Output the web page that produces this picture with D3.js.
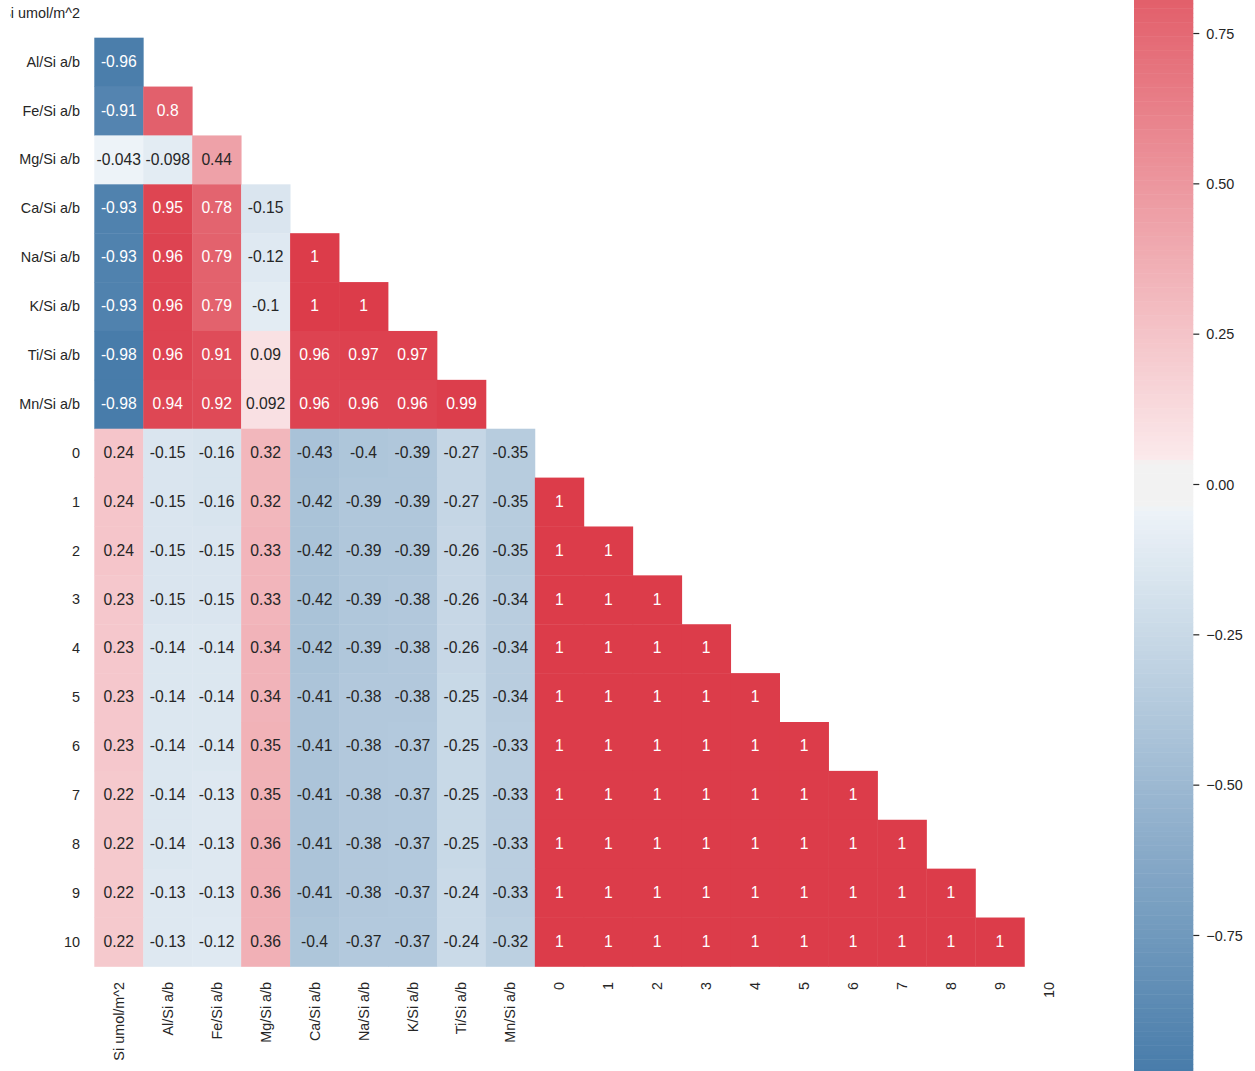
<!DOCTYPE html>
<html>
<head>
<meta charset="utf-8">
<script src="https://cdn.jsdelivr.net/npm/d3@7"></script>
<style>
  html, body { margin: 0; padding: 0; background: #ffffff; }
  svg { display: block; font-family: "Liberation Sans", Arial, sans-serif; }
</style>
</head>
<body>
<svg id="chart" width="1255" height="1071"></svg>
<script>
// Variable names (rows and columns of the correlation matrix)
const variables = [
  "Si umol/m^2", "Al/Si a/b", "Fe/Si a/b", "Mg/Si a/b", "Ca/Si a/b",
  "Na/Si a/b", "K/Si a/b", "Ti/Si a/b", "Mn/Si a/b",
  "0", "1", "2", "3", "4", "5", "6", "7", "8", "9", "10"
];

// Lower-triangle correlations, one list per row (row i holds columns 0..i-1)
const rowSi = [];
const rowAl = [-0.96];
const rowFe = [-0.91, 0.8];
const rowMg = [-0.043, -0.098, 0.44];
const rowCa = [-0.93, 0.95, 0.78, -0.15];
const rowNa = [-0.93, 0.96, 0.79, -0.12, 1];
const rowK  = [-0.93, 0.96, 0.79, -0.1, 1, 1];
const rowTi = [-0.98, 0.96, 0.91, 0.09, 0.96, 0.97, 0.97];
const rowMn = [-0.98, 0.94, 0.92, 0.092, 0.96, 0.96, 0.96, 0.99];
const row0  = [0.24, -0.15, -0.16, 0.32, -0.43, -0.4, -0.39, -0.27, -0.35];
const row1  = [0.24, -0.15, -0.16, 0.32, -0.42, -0.39, -0.39, -0.27, -0.35, 1];
const row2  = [0.24, -0.15, -0.15, 0.33, -0.42, -0.39, -0.39, -0.26, -0.35, 1, 1];
const row3  = [0.23, -0.15, -0.15, 0.33, -0.42, -0.39, -0.38, -0.26, -0.34, 1, 1, 1];
const row4  = [0.23, -0.14, -0.14, 0.34, -0.42, -0.39, -0.38, -0.26, -0.34, 1, 1, 1, 1];
const row5  = [0.23, -0.14, -0.14, 0.34, -0.41, -0.38, -0.38, -0.25, -0.34, 1, 1, 1, 1, 1];
const row6  = [0.23, -0.14, -0.14, 0.35, -0.41, -0.38, -0.37, -0.25, -0.33, 1, 1, 1, 1, 1, 1];
const row7  = [0.22, -0.14, -0.13, 0.35, -0.41, -0.38, -0.37, -0.25, -0.33, 1, 1, 1, 1, 1, 1, 1];
const row8  = [0.22, -0.14, -0.13, 0.36, -0.41, -0.38, -0.37, -0.25, -0.33, 1, 1, 1, 1, 1, 1, 1, 1];
const row9  = [0.22, -0.13, -0.13, 0.36, -0.41, -0.38, -0.37, -0.24, -0.33, 1, 1, 1, 1, 1, 1, 1, 1, 1];
const row10 = [0.22, -0.13, -0.12, 0.36, -0.4, -0.37, -0.37, -0.24, -0.32, 1, 1, 1, 1, 1, 1, 1, 1, 1, 1];

const lowerRows = [rowSi, rowAl, rowFe, rowMg, rowCa, rowNa, rowK, rowTi, rowMn,
  row0, row1, row2, row3, row4, row5, row6, row7, row8, row9, row10];

// Colour-bar tick values
const colorbarTicks = [-0.75, -0.5, -0.25, 0, 0.25, 0.5, 0.75];

// ---------------------------------------------------------------------------
const svg = d3.select("#chart");
const INK = "#262626";

// Flatten into cells
const cells = [];
lowerRows.forEach((row, i) => row.forEach((v, j) => cells.push({ r: variables[i], c: variables[j], v })));
const vmin = d3.min(cells, d => d.v);
const vmax = d3.max(cells, d => d.v);

// Diverging colormap (blue -> light -> grey band -> light -> red), centred on 0
const blue = d3.rgb(68, 121, 168), blueLight = d3.rgb(237, 243, 248);
const red = d3.rgb(220, 60, 74), redLight = d3.rgb(251, 233, 235);
const grey = d3.rgb(242, 242, 242);
const cmap = d3.scaleLinear()
  .domain([0, 122 / 255, 123 / 255, 132 / 255, 133 / 255, 1])
  .range([blue, blueLight, grey, grey, redLight, red])
  .interpolate(d3.interpolateRgb)
  .clamp(true);
const vrange = Math.max(vmax, -vmin);
const colorOf = v => cmap((v + vrange) / (2 * vrange));

function luminance(c) {
  const ch = [c.r, c.g, c.b].map(x => {
    x /= 255;
    return x <= 0.03928 ? x / 12.92 : Math.pow((x + 0.055) / 1.055, 2.4);
  });
  return 0.2126 * ch[0] + 0.7152 * ch[1] + 0.0722 * ch[2];
}

// Heatmap scales
const cellW = 48.95, cellH = 48.88;
const x0 = 94.3, y0 = -11.2;
const x = d3.scaleBand().domain(variables).range([x0, x0 + cellW * variables.length]);
const y = d3.scaleBand().domain(variables).range([y0, y0 + cellH * variables.length]);

const g = svg.append("g");
g.selectAll("rect.cell")
  .data(cells)
  .join("rect")
  .attr("class", "cell")
  .attr("x", d => x(d.c))
  .attr("y", d => y(d.r))
  .attr("width", x.bandwidth() + 0.4)
  .attr("height", y.bandwidth() + 0.4)
  .attr("fill", d => colorOf(d.v));

g.selectAll("text.annot")
  .data(cells)
  .join("text")
  .attr("class", "annot")
  .attr("x", d => x(d.c) + x.bandwidth() / 2)
  .attr("y", d => y(d.r) + y.bandwidth() / 2)
  .attr("dy", "0.3em")
  .attr("text-anchor", "middle")
  .style("font-size", "15.7px")
  .attr("fill", d => luminance(d3.rgb(colorOf(d.v))) > 0.408 ? INK : "#ffffff")
  .text(d => String(Number(d.v.toPrecision(2))));

// Axes (labels only, no tick marks); the row labels are clipped at the page's left margin
svg.append("defs").append("clipPath").attr("id", "yclip")
  .append("rect").attr("x", 10 - x0).attr("y", -20).attr("width", 1255).attr("height", 1100);

const yAxis = svg.append("g")
  .attr("transform", `translate(${x0},0)`)
  .attr("clip-path", "url(#yclip)")
  .call(d3.axisLeft(y).tickSize(0).tickPadding(14.3));
yAxis.select(".domain").remove();
yAxis.selectAll("text")
  .attr("dy", "0.32em")
  .style("font-size", "14.4px")
  .style("font-family", "'Liberation Sans', Arial, sans-serif")
  .attr("fill", INK);

const xAxis = svg.append("g")
  .attr("transform", `translate(0,${y0 + cellH * variables.length})`)
  .call(d3.axisBottom(x).tickSize(0));
xAxis.select(".domain").remove();
xAxis.selectAll("text")
  .attr("transform", "rotate(-90)")
  .attr("text-anchor", "end")
  .attr("x", -15.5)
  .attr("y", 0)
  .attr("dy", "0.35em")
  .style("font-size", "14.4px")
  .style("font-family", "'Liberation Sans', Arial, sans-serif")
  .attr("fill", INK);

// Colour bar
const cbX = 1134, cbW = 59.3;
const cbY = d3.scaleLinear().domain([vmin, vmax]).range([484 + 601.3 * (-vmin), 484 - 601.3 * vmax]);
const nBins = 256;
const bins = d3.range(nBins).map(k => {
  const a = vmin + (vmax - vmin) * k / nBins;
  const b = vmin + (vmax - vmin) * (k + 1) / nBins;
  return { a, b, v: (a + b) / 2 };
});
svg.append("g").selectAll("rect")
  .data(bins)
  .join("rect")
  .attr("x", cbX)
  .attr("width", cbW)
  .attr("y", d => cbY(d.b))
  .attr("height", d => cbY(d.a) - cbY(d.b) + 0.5)
  .attr("fill", d => colorOf(d.v));

const fmt = d3.format(".2f");
const cbAxis = svg.append("g")
  .attr("transform", `translate(${cbX + cbW},0)`)
  .call(d3.axisRight(cbY).tickValues(colorbarTicks).tickSize(6).tickPadding(7)
    .tickFormat(d => fmt(d).replace("-", "\u2212")));
cbAxis.select(".domain").remove();
cbAxis.selectAll("line").attr("stroke", INK).attr("stroke-width", 1.2);
cbAxis.selectAll("text")
  .attr("dy", "0.35em")
  .style("font-size", "14.4px")
  .style("font-family", "'Liberation Sans', Arial, sans-serif")
  .attr("fill", INK);
</script>
</body>
</html>
